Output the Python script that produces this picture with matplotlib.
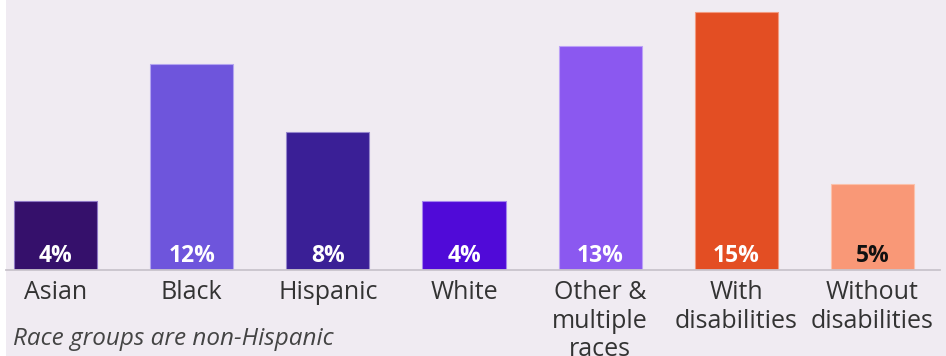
import matplotlib
matplotlib.use("Agg")
import matplotlib.pyplot as plt

categories = ["Asian", "Black", "Hispanic", "White", "Other &\nmultiple\nraces",
              "With\ndisabilities", "Without\ndisabilities"]
values = [4, 12, 8, 4, 13, 15, 5]
value_labels = ["4%", "12%", "8%", "4%", "13%", "15%", "5%"]
colors = ["#35106B", "#6E55DC", "#3A1F96", "#500AD8", "#8B58F0", "#E34E23", "#F99877"]
edge_colors = ["#8E78C4", "#B3A4F0", "#9586CC", "#A584EE", "#BBA0F7", "#F29A80", "#FBC1AB"]
label_colors = ["white", "white", "white", "white", "white", "white", "#111111"]
footnote = "Race groups are non-Hispanic"

W, H, DPI = 946, 356, 100
BG = "#F0EBF2"

fig = plt.figure(figsize=(W / DPI, H / DPI), dpi=DPI, facecolor="white")
# panel background (leaves a thin white strip on the left)
fig.patches.append(plt.Rectangle((6 / W, 0), 1 - 6 / W, 1, transform=fig.transFigure,
                                 facecolor=BG, edgecolor="none", zorder=-10))

left_px, right_px, base_px = 6, 940, 270
ax = fig.add_axes([left_px / W, (H - base_px) / H, (right_px - left_px) / W, base_px / H])
ax.set_facecolor("none")

step = 136.17
c0 = 55.5
ax.set_xlim((left_px - c0) / step, (right_px - c0) / step)
ax.set_ylim(0, base_px / 17.2)

x = list(range(len(values)))
ax.bar(x, values, width=0.61, color=colors, edgecolor=edge_colors, linewidth=0.8, zorder=2)

font = "Open Sans"
for xi, v, lab, lc in zip(x, values, value_labels, label_colors):
    ax.annotate(lab, (xi, 0), xytext=(0, 8), textcoords="offset pixels",
                ha="center", va="baseline", color=lc, fontsize=16.5,
                fontweight="bold", family=font, zorder=3)

for s in ["top", "right", "left"]:
    ax.spines[s].set_visible(False)
ax.spines["bottom"].set_color("#C9C4CC")
ax.spines["bottom"].set_linewidth(1.3)
ax.set_yticks([])
ax.set_xticks(x)
ax.set_xticklabels(categories, fontsize=18, color="#333333", family=font,
                   linespacing=1.17)
ax.tick_params(axis="x", length=0, pad=7.5)

fig.text(13 / W, 1 - 345 / H, footnote, fontsize=17.5, style="italic",
         color="#444444", family=font, ha="left", va="baseline")

fig.savefig("out.png", dpi=DPI, facecolor="white")
